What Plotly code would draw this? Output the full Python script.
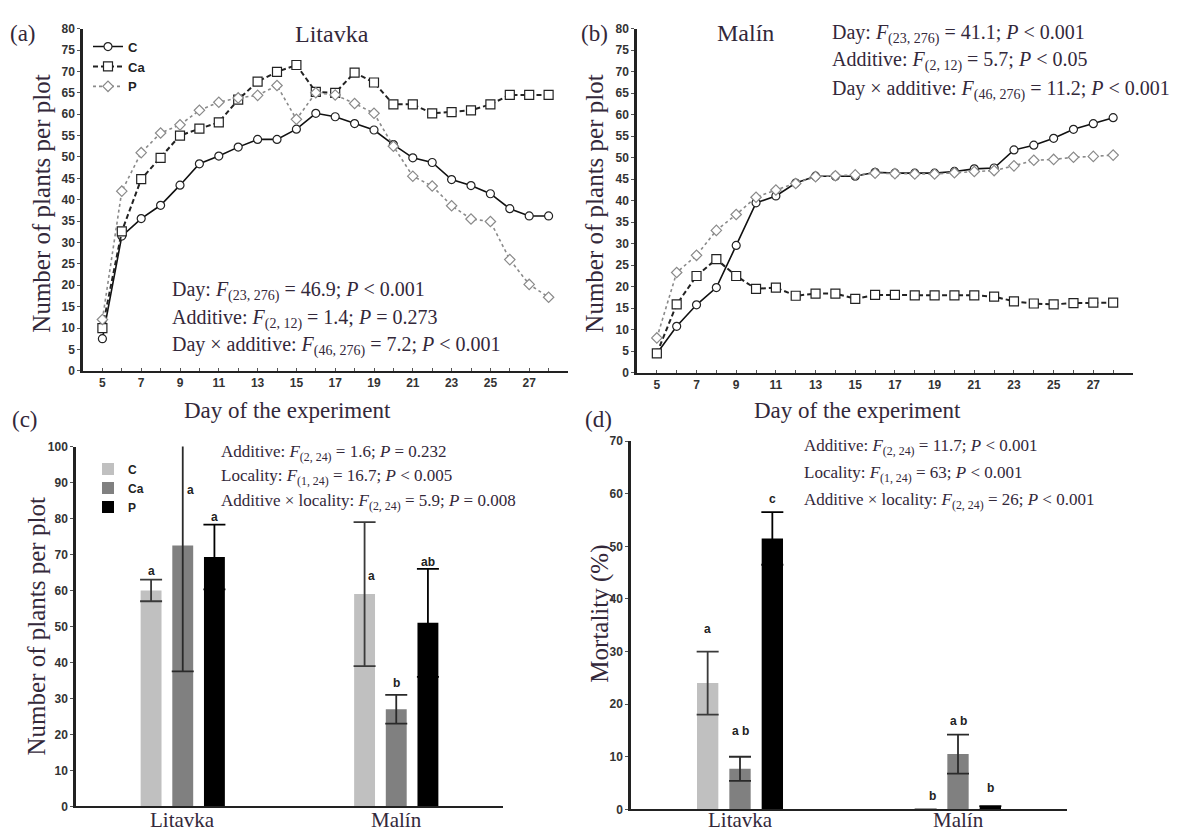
import plotly.graph_objects as go

# ---------------- data ----------------
days = [5, 6, 7, 8, 9, 10, 11, 12, 13, 14, 15, 16, 17, 18, 19, 20, 21, 22, 23, 24, 25, 26, 27, 28]
day_ticks = [5, 7, 9, 11, 13, 15, 17, 19, 21, 23, 25, 27]

lit_C = [7.5, 31.5, 35.6, 38.7, 43.4, 48.4, 50.2, 52.3, 54.1, 54.1, 56.5, 60.2,
         59.4, 57.8, 56.3, 52.9, 49.8, 48.7, 44.7, 43.3, 41.4, 37.9, 36.2, 36.2]
lit_Ca = [10.0, 32.6, 44.8, 49.8, 55.0, 56.6, 58.1, 63.4, 67.6, 69.9, 71.5, 65.2,
          65.0, 69.7, 67.4, 62.3, 62.3, 60.2, 60.5, 60.9, 62.3, 64.5, 64.5, 64.5]
lit_P = [12.0, 42.0, 51.0, 55.6, 57.5, 60.9, 62.8, 63.8, 64.4, 66.7, 58.8, 65.0,
         64.5, 62.5, 60.2, 52.5, 45.5, 43.2, 38.6, 35.5, 34.9, 26.0, 20.2, 17.2]

mal_C = [4.5, 10.8, 15.8, 19.8, 29.6, 39.5, 41.1, 44.1, 45.7, 45.7, 45.7, 46.6,
         46.4, 46.4, 46.4, 46.8, 47.4, 47.6, 51.8, 52.9, 54.5, 56.6, 57.9, 59.3]
mal_Ca = [4.5, 15.9, 22.5, 26.4, 22.5, 19.5, 19.8, 17.9, 18.4, 18.4, 17.2, 18.1,
          18.1, 18.0, 18.0, 18.0, 18.0, 17.7, 16.6, 16.1, 15.9, 16.2, 16.3, 16.3]
mal_P = [8.1, 23.3, 27.3, 33.1, 36.8, 40.8, 42.5, 44.0, 45.6, 45.8, 46.0, 46.4,
         46.3, 46.2, 46.2, 46.5, 46.8, 47.0, 48.1, 49.4, 49.6, 50.1, 50.3, 50.6]

localities = ["Litavka", "Malín"]
treatments = ["C", "Ca", "P"]

plants_mean = {"C": [60.0, 59.0], "Ca": [72.5, 27.0], "P": [69.3, 51.0]}
plants_err = {"C": [3.0, 20.0], "Ca": [35.0, 4.0], "P": [9.0, 15.0]}
plants_letters = {"C": ["a", "a"], "Ca": ["a", "b"], "P": ["a", "ab"]}
plants_letter_y = {"C": [65.5, 64.0], "Ca": [88.0, 34.4], "P": [80.5, 68.0]}

mort_mean = {"C": [24.0, 0.0], "Ca": [7.7, 10.5], "P": [51.5, 0.6]}
mort_err = {"C": [6.0, 0.0], "Ca": [2.3, 3.7], "P": [5.0, 0.0]}
mort_letters = {"C": ["a", "b"], "Ca": ["a b", "a b"], "P": ["c", "b"]}
mort_letter_y = {"C": [34.2, 2.6], "Ca": [14.8, 16.8], "P": [59.0, 4.1]}

bar_colors = {"C": "#c0c0c0", "Ca": "#808080", "P": "#000000"}
err_colors = {"C": "#3a3a3a", "Ca": "#2a2a2a", "P": "#000000"}

# ---------------- styles ----------------
W, H = 1185, 836
SERIF = "Liberation Serif, Times New Roman, serif"
SANS = "Liberation Sans, Arial, sans-serif"
TXT = "#33283a"
AX = "#222222"

def px(x):
    return x / W

def py(y):
    return 1 - y / H

fig = go.Figure()

line_styles = {
    "C": dict(line=dict(color="#111111", width=1.6, dash="solid"),
              marker=dict(symbol="circle", size=8, color="white", line=dict(color="#222222", width=1.2))),
    "Ca": dict(line=dict(color="#222222", width=2, dash="5px,3px"),
               marker=dict(symbol="square", size=9, color="white", line=dict(color="#222222", width=1.2))),
    "P": dict(line=dict(color="#8a8a8a", width=1.6, dash="dot"),
              marker=dict(symbol="diamond", size=8, color="white", line=dict(color="#8a8a8a", width=1.2))),
}

lit = {"C": lit_C, "Ca": lit_Ca, "P": lit_P}
mal = {"C": mal_C, "Ca": mal_Ca, "P": mal_P}

for t in treatments:
    fig.add_trace(go.Scatter(x=days, y=lit[t], mode="lines+markers", name=t,
                             xaxis="x", yaxis="y", legend="legend", **line_styles[t]))
for t in treatments:
    fig.add_trace(go.Scatter(x=days, y=mal[t], mode="lines+markers", name=t, showlegend=False,
                             xaxis="x2", yaxis="y2", **line_styles[t]))

for t in treatments:
    fig.add_trace(go.Bar(x=localities, y=plants_mean[t], name=t, marker_color=bar_colors[t],
                         marker_line_width=0,
                         error_y=dict(type="data", array=plants_err[t], color=err_colors[t],
                                      thickness=1.8, width=11),
                         xaxis="x3", yaxis="y3", legend="legend2"))
for t in treatments:
    fig.add_trace(go.Bar(x=localities, y=mort_mean[t], name=t, marker_color=bar_colors[t],
                         marker_line_width=0, showlegend=False,
                         error_y=dict(type="data", array=mort_err[t], color=err_colors[t],
                                      thickness=1.8, width=11),
                         xaxis="x4", yaxis="y4"))

tickfont = dict(family=SANS, size=12, color="#333333", weight="bold")

def num_xaxis(domain, anchor):
    return dict(domain=domain, anchor=anchor, range=[4, 29], tickvals=day_ticks,
                showline=True, linecolor=AX, linewidth=2, ticks="inside", ticklen=3,
                tickcolor="#555", minor=dict(dtick=1, tick0=4, ticks="inside", ticklen=3, tickcolor="#555"),
                showgrid=False, zeroline=False, tickfont=tickfont)

def num_yaxis(domain, anchor, rng, dtick):
    return dict(domain=domain, anchor=anchor, range=rng, dtick=dtick,
                showline=True, linecolor=AX, linewidth=2.5, ticks="outside", ticklen=3,
                tickcolor="#555", showgrid=False, zeroline=False, tickfont=tickfont)

def cat_xaxis(domain, anchor):
    return dict(domain=domain, anchor=anchor, type="category", categoryarray=localities,
                range=[-0.5, 1.5], showline=True, linecolor=AX, linewidth=2, ticks="",
                showgrid=False, zeroline=False, showticklabels=False)

fig.update_layout(
    width=W, height=H, autosize=False,
    margin=dict(l=0, r=0, t=0, b=0),
    paper_bgcolor="white", plot_bgcolor="white",
    barmode="group", bargap=0.555, bargroupgap=0.34,
    xaxis=num_xaxis([px(83), px(568)], "y"),
    yaxis=num_yaxis([py(370), py(22)], "x", [0, 80], 5),
    xaxis2=num_xaxis([px(637), px(1133)], "y2"),
    yaxis2=num_yaxis([py(372), py(22)], "x2", [0, 80], 5),
    xaxis3=cat_xaxis([px(76), px(503)], "y3"),
    yaxis3=num_yaxis([py(813), py(447)], "x3", [0, 100], 10),
    xaxis4=cat_xaxis([px(631), px(1067)], "y4"),
    yaxis4=num_yaxis([py(816), py(441.5)], "x4", [0, 70], 10),
    legend=dict(x=px(88), y=py(25), xanchor="left", yanchor="top",
                font=dict(family=SANS, size=13, color="#222", weight="bold"),
                bgcolor="rgba(0,0,0,0)", tracegroupgap=0, itemwidth=30),
    legend2=dict(x=px(88), y=py(455), xanchor="left", yanchor="top",
                 font=dict(family=SANS, size=12, color="#222", weight="bold"),
                 bgcolor="rgba(0,0,0,0)", tracegroupgap=0),
    showlegend=True,
)

ann = []

def add_text(x, y, text, size, family=SERIF, color=TXT, xanchor="left", angle=0):
    ann.append(dict(x=px(x), y=py(y), xref="paper", yref="paper", text=text, showarrow=False,
                    xanchor=xanchor, yanchor="middle", textangle=angle,
                    font=dict(family=family, size=size, color=color)))

# panel labels
add_text(8, 27, "(a)", 23)
add_text(579, 27, "(b)", 23)
add_text(10, 420, "(c)", 23)
add_text(583, 420, "(d)", 23)

# titles
add_text(332, 27, "Litavka", 24, xanchor="center")
add_text(745, 26, "Malín", 24, xanchor="center")

# axis titles
add_text(42, 200, "Number of plants per plot", 25, xanchor="center", angle=-90)
add_text(595, 200, "Number of plants per plot", 25, xanchor="center", angle=-90)
add_text(36, 630, "Number of plants per plot", 25, xanchor="center", angle=-90)
add_text(600, 617, "Mortality (%)", 25, xanchor="center", angle=-90)
add_text(287, 410, "Day of the experiment", 23, xanchor="center")
add_text(857, 410, "Day of the experiment", 23, xanchor="center")

# statistics
add_text(170, 289, "Day: <i>F</i><sub>(23, 276)</sub> = 46.9; <i>P</i> &lt; 0.001", 20)
add_text(170, 317, "Additive: <i>F</i><sub>(2, 12)</sub> = 1.4; <i>P</i> = 0.273", 20)
add_text(170, 345, "Day × additive: <i>F</i><sub>(46, 276)</sub> = 7.2; <i>P</i> &lt; 0.001", 20)

add_text(830, 27, "Day: <i>F</i><sub>(23, 276)</sub> = 41.1; <i>P</i> &lt; 0.001", 20)
add_text(830, 55, "Additive: <i>F</i><sub>(2, 12)</sub> = 5.7; <i>P</i> &lt; 0.05", 20)
add_text(830, 84, "Day × additive: <i>F</i><sub>(46, 276)</sub> = 11.2; <i>P</i> &lt; 0.001", 20)

add_text(219, 454, "Additive: <i>F</i><sub>(2, 24)</sub> = 1.6; <i>P</i> = 0.232", 17)
add_text(219, 478, "Locality: <i>F</i><sub>(1, 24)</sub> = 16.7; <i>P</i> &lt; 0.005", 17)
add_text(219, 503, "Additive × locality: <i>F</i><sub>(2, 24)</sub> = 5.9; <i>P</i> = 0.008", 17)

add_text(802, 448, "Additive: <i>F</i><sub>(2, 24)</sub> = 11.7; <i>P</i> &lt; 0.001", 17)
add_text(802, 475, "Locality: <i>F</i><sub>(1, 24)</sub> = 63; <i>P</i> &lt; 0.001", 17)
add_text(802, 502, "Additive × locality: <i>F</i><sub>(2, 24)</sub> = 26; <i>P</i> &lt; 0.001", 17)

# category labels under the bar panels
for xa in ["x3", "x4"]:
    for loc in localities:
        ann.append(dict(x=loc, y=py(827), xref=xa, yref="paper", text=loc, showarrow=False,
                        xanchor="center", yanchor="middle",
                        font=dict(family=SERIF, size=21, color=TXT)))

# significance letters
slot_c, slot_d = 31.7, 32.5
extra_c = {("Ca", 0): 8, ("C", 1): 7}
extra_d = {("C", 1): 7}
for i, t in enumerate(treatments):
    for j, loc in enumerate(localities):
        ann.append(dict(x=loc, y=plants_letter_y[t][j], xref="x3", yref="y3",
                        text=plants_letters[t][j], showarrow=False,
                        xshift=(i - 1) * slot_c + extra_c.get((t, j), 0),
                        font=dict(family=SANS, size=12, color="#222", weight="bold")))
        ann.append(dict(x=loc, y=mort_letter_y[t][j], xref="x4", yref="y4",
                        text=mort_letters[t][j], showarrow=False,
                        xshift=(i - 1) * slot_d + extra_d.get((t, j), 0),
                        font=dict(family=SANS, size=12, color="#222", weight="bold")))

fig.update_layout(annotations=ann)

fig.write_html("out.html", config={"displayModeBar": False},
               post_script="document.body.style.margin='0px';document.body.style.overflow='hidden';")
